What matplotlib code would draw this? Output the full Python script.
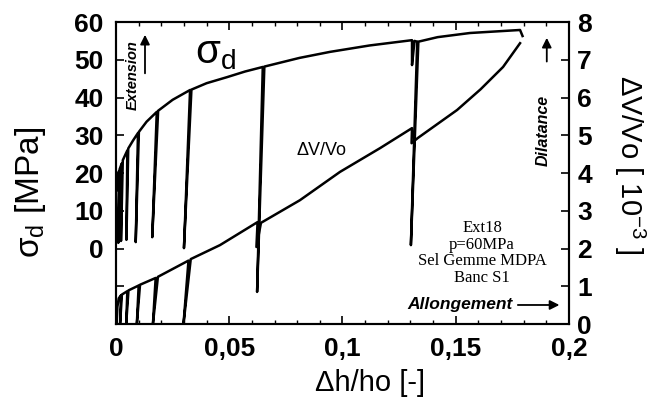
import matplotlib.pyplot as plt
import matplotlib.ticker as mticker

plt.rcParams['font.family'] = ['Liberation Sans', 'DejaVu Sans']
plt.rcParams['mathtext.fontset'] = 'custom'
plt.rcParams['mathtext.rm'] = 'Liberation Sans'

# Contrainte deviatorique (MPa) avec cycles de decharge
sigma_x = [0.0004, 0.0009, 0.0013, 0.0010, 0.0016, 0.0025, 0.0022, 0.0030,
           0.0050, 0.0046, 0.0054, 0.0075, 0.0097, 0.0087, 0.0101, 0.0135,
           0.0180, 0.0160, 0.0186, 0.0250, 0.0327, 0.0300, 0.0333, 0.0400,
           0.0490, 0.0570, 0.0648, 0.0623, 0.0655, 0.0810, 0.0945, 0.1120,
           0.1307, 0.1307, 0.1318, 0.1330, 0.1302, 0.1335, 0.1420, 0.1563,
           0.1784, 0.1795]
sigma_y = [15.5, 19.0, 20.5, 1.5, 21.0, 22.5, 2.0, 23.4,
           26.0, 2.3, 26.5, 28.6, 30.6, 1.7, 30.9, 33.6,
           36.2, 3.0, 36.5, 39.4, 42.0, 0.1, 42.1, 43.8,
           45.4, 46.9, 48.1, -11.5, 48.2, 50.5, 52.1, 53.8,
           55.2, 48.6, 55.0, 54.8, 0.9, 54.8, 56.0, 57.1,
           57.9, 56.3]

# Deformation volumique (10^-3)
dv_x = [0.0003, 0.0006, 0.0012, 0.0022, 0.0018, 0.0026, 0.0050, 0.0045,
        0.0055, 0.0100, 0.0092, 0.0106, 0.0175, 0.0163, 0.0185, 0.0320,
        0.0298, 0.0330, 0.0459, 0.0625, 0.0620, 0.0640, 0.0812, 0.0989,
        0.1166, 0.1307, 0.1305, 0.1333, 0.1506, 0.1610, 0.1709, 0.1784]
dv_y = [0.0, 0.45, 0.68, 0.76, 0.0, 0.78, 0.87, 0.0,
        0.89, 1.02, 0.0, 1.04, 1.22, 0.0, 1.25, 1.68,
        0.0, 1.72, 2.09, 2.70, 2.04, 2.68, 3.28, 4.03,
        4.66, 5.19, 4.79, 4.93, 5.67, 6.22, 6.81, 7.44]

x_ticks = [0, 0.05, 0.1, 0.15, 0.2]
x_labels = ['0', '0,05', '0,1', '0,15', '0,2']
sig_ticks = [-20, -10, 0, 10, 20, 30, 40, 50, 60]
sig_labels = ['', '', '0', '10', '20', '30', '40', '50', '60']
dv_ticks = [0, 1, 2, 3, 4, 5, 6, 7, 8]

fig = plt.figure(figsize=(6.58, 4.01), dpi=100)
ax = fig.add_axes([0.1763, 0.192, 0.6884, 0.753])
ax2 = ax.twinx()

ax.plot(sigma_x, sigma_y, color='black', lw=1.8)
ax2.plot(dv_x, dv_y, color='black', lw=1.8)

ax.set_xlim(0, 0.2)
ax.set_ylim(-20, 60)
ax2.set_ylim(0, 8)

ax.set_xticks(x_ticks)
ax.set_xticklabels(x_labels)
ax.xaxis.set_minor_locator(mticker.MultipleLocator(0.01))
ax.set_yticks(sig_ticks)
ax.set_yticklabels(sig_labels)
ax2.set_yticks(dv_ticks)

for a in (ax, ax2):
    for s in a.spines.values():
        s.set_linewidth(1.5)
ax.tick_params(axis='x', which='major', direction='in', top=True, length=6, width=1.2,
               labelsize=19, pad=9)
ax.tick_params(axis='x', which='minor', direction='in', top=True, length=3, width=1)
ax.tick_params(axis='y', direction='in', length=6, width=1.2, labelsize=19, pad=9)
ax2.tick_params(axis='y', direction='in', length=6, width=1.2, labelsize=19, pad=6)
for lab in ax.get_xticklabels() + ax.get_yticklabels() + ax2.get_yticklabels():
    lab.set_fontweight('bold')

fig.text(0.046, 0.52, 'σ$_\\mathregular{d}$ [MPa]', rotation=90, ha='center', va='center',
         fontsize=24)
# etiquette de l'abscisse, un peu decalee vers la droite comme l'original
fig.text(0.562, 0.045, 'Δh/ho [-]', ha='center', va='center', fontsize=21)
fig.text(0.957, 0.59, 'ΔV/Vo [ 10$^\\mathregular{-3}$ ]', rotation=270, ha='center',
         va='center', fontsize=21)

ax.text(0.219, 0.897, 'σ$_\\mathregular{d}$', transform=ax.transAxes, ha='center',
        va='center', fontsize=29)
ax.text(0.453, 0.573, 'ΔV/Vo', transform=ax.transAxes, ha='center', va='center',
        fontsize=13)

ax.text(0.0375, 0.825, 'Extension', transform=ax.transAxes, rotation=90, ha='center',
        va='center', fontsize=10.5, fontweight='bold', style='italic')
ax.annotate('', xy=(0.064, 0.967), xytext=(0.064, 0.821), xycoords='axes fraction',
            arrowprops=dict(arrowstyle='-|>', color='black', lw=1.3, mutation_scale=14))
ax.text(0.943, 0.642, 'Dilatance', transform=ax.transAxes, rotation=90, ha='center',
        va='center', fontsize=11.5, fontweight='bold', style='italic')
ax.annotate('', xy=(0.951, 0.957), xytext=(0.951, 0.86), xycoords='axes fraction',
            arrowprops=dict(arrowstyle='-|>', color='black', lw=1.3, mutation_scale=14))
ax.text(0.759, 0.063, 'Allongement', transform=ax.transAxes, ha='center', va='center',
        fontsize=12.5, fontweight='bold', style='italic')
ax.annotate('', xy=(0.985, 0.063), xytext=(0.881, 0.063), xycoords='axes fraction',
            arrowprops=dict(arrowstyle='-|>', color='black', lw=1.3, mutation_scale=14))

ax.text(0.808, 0.235, 'Ext18\np=60MPa\nSel Gemme MDPA\nBanc S1', transform=ax.transAxes,
        ha='center', va='center', fontsize=12, family='Liberation Serif', linespacing=1.05)

fig.savefig('out.png', dpi=100)
